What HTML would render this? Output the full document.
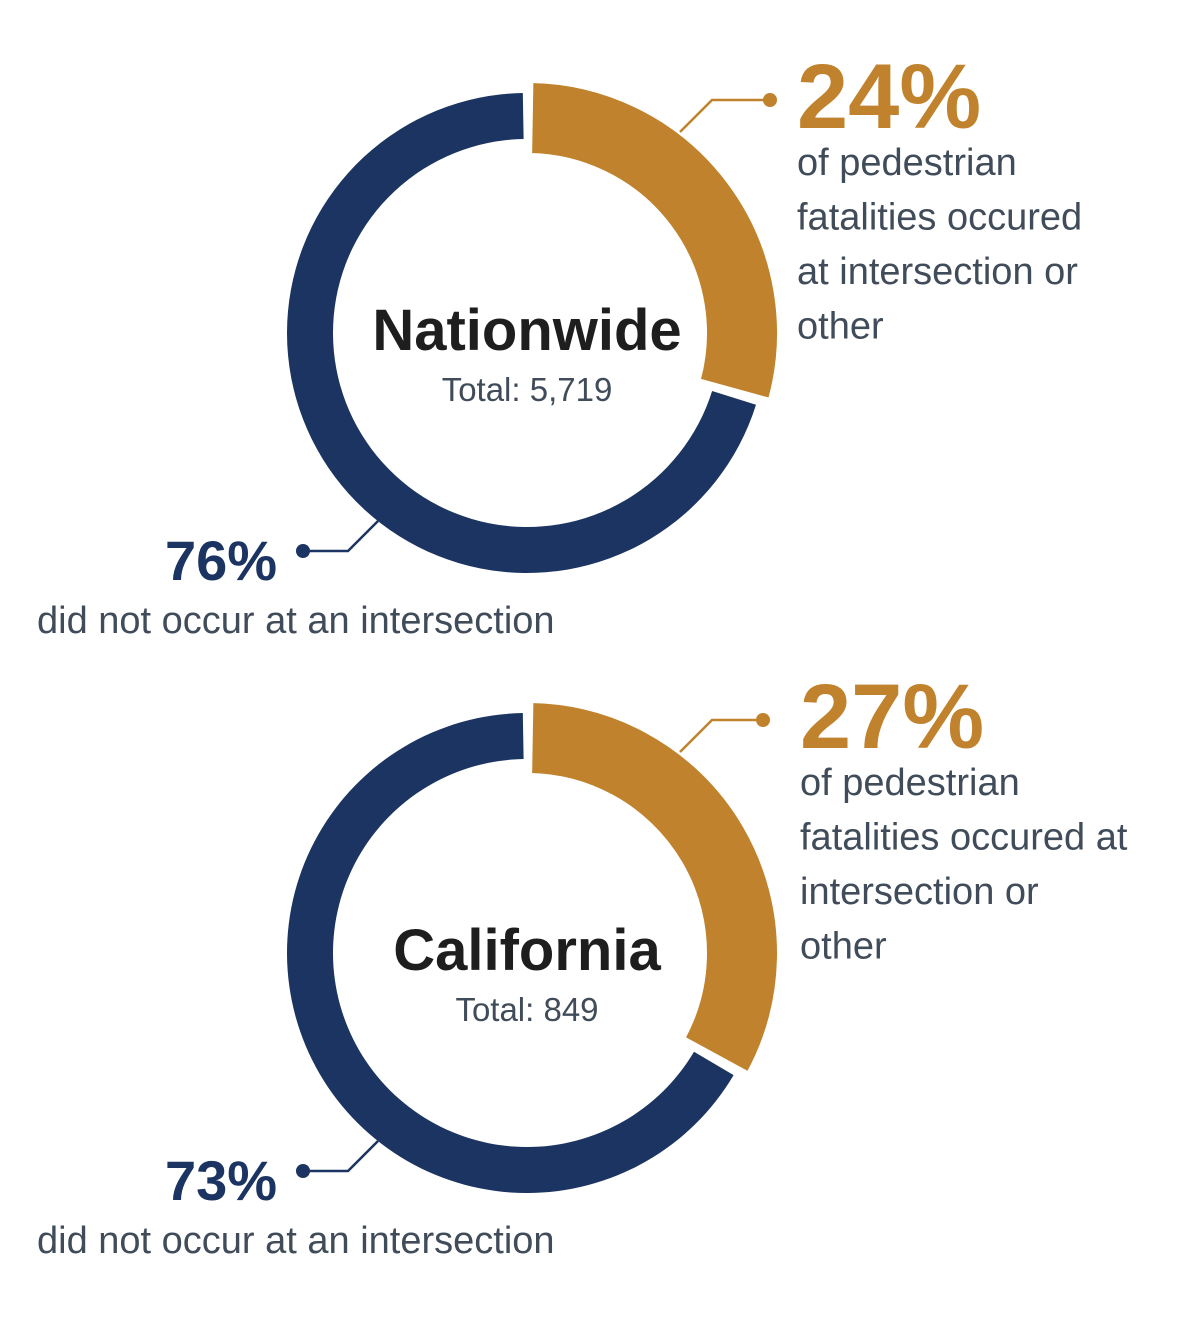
<!DOCTYPE html>
<html><head><meta charset="utf-8"><style>
body{margin:0;background:#fff;}
svg{display:block;font-family:"Liberation Sans",sans-serif;}
.body{fill:#414c5a;font-size:38px;}
</style></head><body>
<svg width="1200" height="1320" viewBox="0 0 1200 1320">
<g id="g"></g>
</svg>
<script>
const regions = ["Nationwide", "California"];
const totals = ["5,719", "849"];
const atIntersection = [24, 27];
const notIntersection = [76, 73];
const descLines = [
  ["of pedestrian","fatalities occured","at intersection or","other"],
  ["of pedestrian","fatalities occured at","intersection or","other"]
];
const NS="http://www.w3.org/2000/svg";
const g=document.getElementById('g');
function mk(t,a,txt){const e=document.createElementNS(NS,t);for(const k in a)e.setAttribute(k,a[k]);if(txt!==undefined)e.textContent=txt;g.appendChild(e);return e;}
function pt(cx,cy,r,deg){const a=(deg-90)*Math.PI/180;return [cx+r*Math.cos(a),cy+r*Math.sin(a)];}
function arc(cx,cy,r0,r1,a0,a1){const L=(a1-a0)>180?1:0;const p1=pt(cx,cy,r1,a0),p2=pt(cx,cy,r1,a1),p3=pt(cx,cy,r0,a1),p4=pt(cx,cy,r0,a0);
return `M${p1} A${r1} ${r1} 0 ${L} 1 ${p2} L${p3} A${r0} ${r0} 0 ${L} 0 ${p4}Z`;}
const NAVY="#1b3461",GOLD="#c0822c";
regions.forEach((name,i)=>{
  const cx=527, cy=333+i*620;
  const total=atIntersection[i]+notIntersection[i];
  const goldDeg=atIntersection[i]/total*360*1.22;
  let e=mk('path',{d:arc(cx,cy,194,240,goldDeg+2,359),fill:NAVY});
  
  
  e=mk('path',{d:arc(cx,cy,178,252,1,goldDeg),fill:GOLD,stroke:'#fff','stroke-width':4});
  
  
  e=mk('text',{x:cx,y:cy+17,'text-anchor':'middle','font-size':58,'font-weight':'bold',fill:'#1e1e1e'},name);
  
  
  e=mk('text',{x:cx,y:cy+68,'text-anchor':'middle','font-size':33,fill:'#414c5a'},'Total: '+totals[i]);
  
  
  // gold leader
  const lx=i?763:770, ly=cy-233;
  mk('polyline',{points:`680,${cy-201} 712,${ly} ${lx},${ly}`,fill:'none',stroke:GOLD,'stroke-width':2.5});
  mk('circle',{cx:lx,cy:ly,r:7,fill:GOLD});
  e=mk('text',{x:i?800:797,y:cy-205,'font-size':92,'font-weight':'900',fill:GOLD},atIntersection[i]+'%');
  
  
  descLines[i].forEach((l,j)=>{
    e=mk('text',{x:i?800:797,y:cy-158+j*54.5,class:'body'},l);
    
    
  });
  // navy leader
  mk('polyline',{points:`378,${cy+188} 348,${cy+218} 303,${cy+218}`,fill:'none',stroke:NAVY,'stroke-width':2.5});
  mk('circle',{cx:303,cy:cy+218,r:7,fill:NAVY});
  e=mk('text',{x:165,y:cy+247,'font-size':56,'font-weight':'900',fill:NAVY},notIntersection[i]+'%');
  
  
  e=mk('text',{x:37,y:cy+300,class:'body','font-size':40},'did not occur at an intersection');
  
  
});
</script>
</body></html>
